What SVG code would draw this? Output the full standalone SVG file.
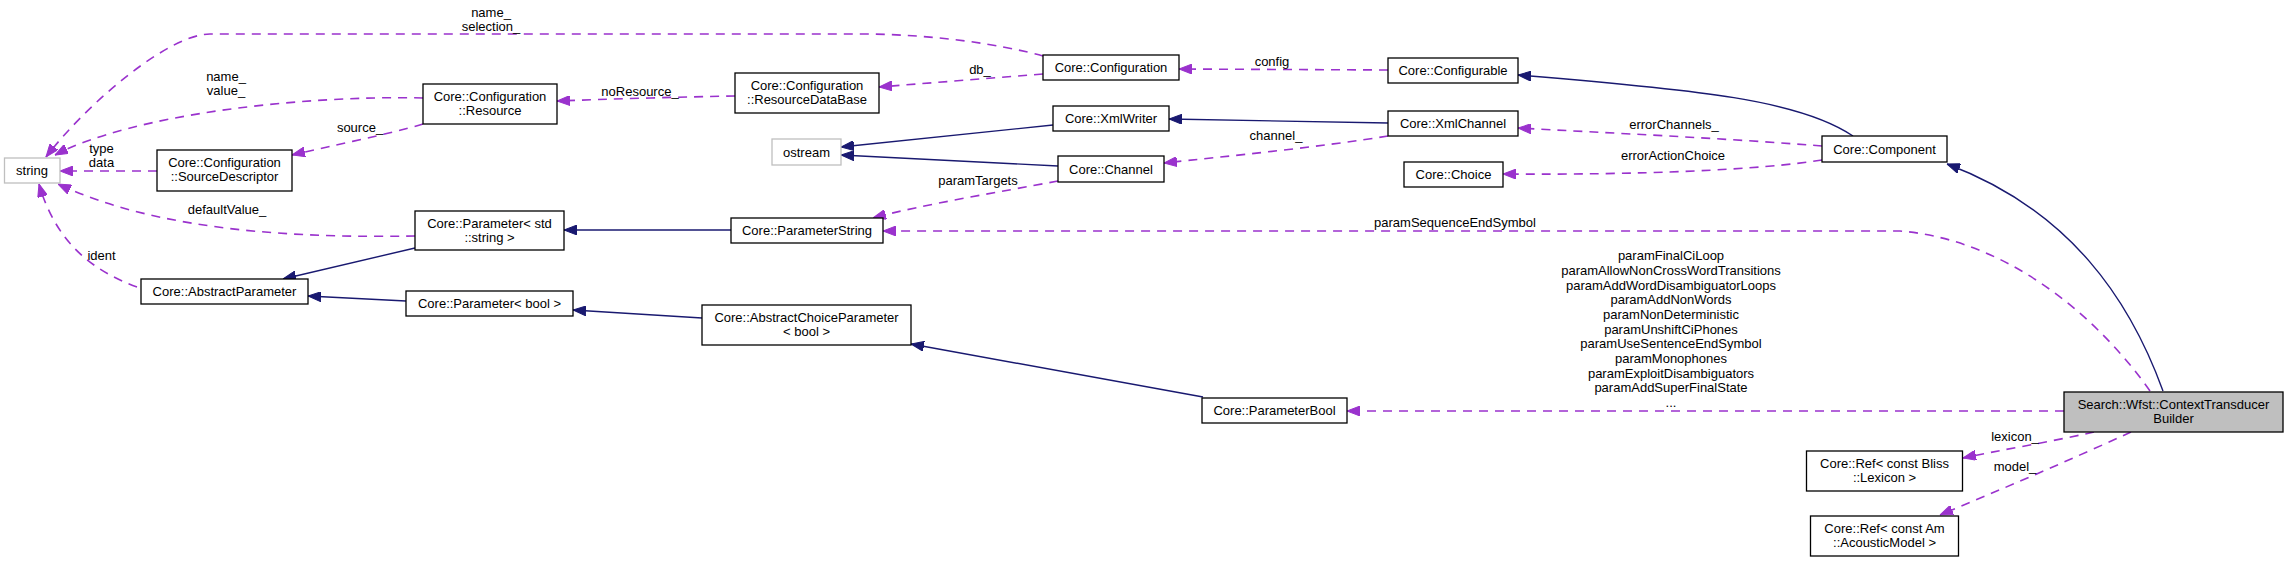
<svg xmlns="http://www.w3.org/2000/svg" width="2288" height="562" viewBox="0 0 2288 562">
<style>
text{font-family:"Liberation Sans",Arial,sans-serif;font-size:13px;fill:#000}
.n text,.lbl{text-anchor:middle}
.box{fill:#fff;stroke:#000;stroke-width:1.3}
.gbox{fill:#fff;stroke:#bfbfbf;stroke-width:1.3}
.cur{fill:#bfbfbf;stroke:#000;stroke-width:1.3}
.inh{fill:none;stroke:#191970;stroke-width:1.4;marker-end:url(#an)}
.use{fill:none;stroke:#9a32cd;stroke-width:1.6;stroke-dasharray:9,7;marker-end:url(#ap)}
</style>
<defs>
<marker id="an" viewBox="0 0 13 10" refX="13" refY="5" markerWidth="13" markerHeight="10" markerUnits="userSpaceOnUse" orient="auto"><path d="M0,0L13,5L0,10z" fill="#191970" stroke="#191970" stroke-width="1"/></marker>
<marker id="ap" viewBox="0 0 13 10" refX="13" refY="5" markerWidth="13" markerHeight="10" markerUnits="userSpaceOnUse" orient="auto"><path d="M0,0L13,5L0,10z" fill="#9a32cd" stroke="#9a32cd" stroke-width="1"/></marker>
</defs>
<rect width="2288" height="562" fill="#fff"/>
<g id="edges">
<path class="use" d="M1043,56 C1000,44 930,34 860,34 L210,34 C170,34 90,100 46,157"/>
<path class="use" d="M423,98 C300,95 130,115 55,155"/>
<path class="use" d="M157,171 L60,171"/>
<path class="use" d="M423,124 C390,134 330,146 292,155"/>
<path class="use" d="M735,96 C680,97 610,99 557,101"/>
<path class="use" d="M1043,74 L879,87"/>
<path class="use" d="M1388,70 L1179,69"/>
<path class="inh" d="M1853,136 C1800,100 1700,90 1518,75"/>
<path class="inh" d="M1388,123 L1169,119"/>
<path class="inh" d="M1053,125 L841,147"/>
<path class="inh" d="M1058,166 L841,155"/>
<path class="use" d="M1388,136 C1320,147 1230,156 1164,163"/>
<path class="use" d="M1058,181 C1000,192 920,205 873,218"/>
<path class="inh" d="M731,230 L564,230"/>
<path class="use" d="M415,236 C300,238 160,232 58,184"/>
<path class="inh" d="M415,248 L283,279"/>
<path class="use" d="M137,287 C90,270 55,240 39,184"/>
<path class="inh" d="M406,301 L308,296"/>
<path class="inh" d="M702,318 L573,310"/>
<path class="inh" d="M1203,397 L911,344"/>
<path class="use" d="M2064,411 L1347,411"/>
<path class="use" d="M2150,391 C2100,320 2010,240 1900,231 L883,231"/>
<path class="inh" d="M2163,391 C2130,300 2070,210 1947,164"/>
<path class="use" d="M1822,146 C1720,138 1610,133 1518,128"/>
<path class="use" d="M1822,160 C1760,170 1640,175 1503,174"/>
<path class="use" d="M2094,432 C2050,442 2000,450 1963,458"/>
<path class="use" d="M2131,432 C2070,460 2000,490 1940,515"/>
<text class="lbl" x="491" y="16.5">name_</text>
<text class="lbl" x="491" y="31">selection_</text>
<text class="lbl" x="226" y="80.5">name_</text>
<text class="lbl" x="226" y="95">value_</text>
<text class="lbl" x="101.5" y="152.5">type</text>
<text class="lbl" x="101.5" y="167">data</text>
<text class="lbl" x="360" y="131.5">source_</text>
<text class="lbl" x="640" y="95.5">noResource_</text>
<text class="lbl" x="980" y="73.5">db_</text>
<text class="lbl" x="1272" y="65.5">config</text>
<text class="lbl" x="1276" y="139.5">channel_</text>
<text class="lbl" x="978" y="185">paramTargets</text>
<text class="lbl" x="227" y="213.5">defaultValue_</text>
<text class="lbl" x="101.5" y="260">ident</text>
<text class="lbl" x="1674" y="128.5">errorChannels_</text>
<text class="lbl" x="1673" y="160">errorActionChoice</text>
<text class="lbl" x="1455" y="227">paramSequenceEndSymbol</text>
<text class="lbl" x="1671" y="260.2">paramFinalCiLoop</text>
<text class="lbl" x="1671" y="274.9">paramAllowNonCrossWordTransitions</text>
<text class="lbl" x="1671" y="289.5">paramAddWordDisambiguatorLoops</text>
<text class="lbl" x="1671" y="304.2">paramAddNonWords</text>
<text class="lbl" x="1671" y="318.9">paramNonDeterministic</text>
<text class="lbl" x="1671" y="333.5">paramUnshiftCiPhones</text>
<text class="lbl" x="1671" y="348.2">paramUseSentenceEndSymbol</text>
<text class="lbl" x="1671" y="362.9">paramMonophones</text>
<text class="lbl" x="1671" y="377.5">paramExploitDisambiguators</text>
<text class="lbl" x="1671" y="392.2">paramAddSuperFinalState</text>
<text class="lbl" x="1671" y="406.9">...</text>
<text class="lbl" x="2015" y="441">lexicon_</text>
<text class="lbl" x="2015" y="471">model_</text>
</g>
<g id="n_string" class="n"><rect class="gbox" x="4.5" y="158" width="55.5" height="25"/><text x="32" y="175">string</text></g>
<g id="n_resource" class="n"><rect class="box" x="423" y="84" width="134" height="40"/><text x="490" y="101">Core::Configuration</text><text x="490" y="115">::Resource</text></g>
<g id="n_sourcedescriptor" class="n"><rect class="box" x="157" y="150" width="135" height="41"/><text x="224.5" y="167">Core::Configuration</text><text x="224.5" y="181">::SourceDescriptor</text></g>
<g id="n_param_string" class="n"><rect class="box" x="415" y="211" width="149" height="39"/><text x="489.5" y="227.5">Core::Parameter&lt; std</text><text x="489.5" y="241.5">::string &gt;</text></g>
<g id="n_abstractparameter" class="n"><rect class="box" x="141" y="279" width="167" height="25"/><text x="224.5" y="296">Core::AbstractParameter</text></g>
<g id="n_param_bool" class="n"><rect class="box" x="406" y="291" width="167" height="25"/><text x="489.5" y="308">Core::Parameter&lt; bool &gt;</text></g>
<g id="n_abstractchoice" class="n"><rect class="box" x="702" y="305" width="209" height="40"/><text x="806.5" y="322">Core::AbstractChoiceParameter</text><text x="806.5" y="336">&lt; bool &gt;</text></g>
<g id="n_configuration" class="n"><rect class="box" x="1043" y="55" width="136" height="25"/><text x="1111" y="72">Core::Configuration</text></g>
<g id="n_resourcedb" class="n"><rect class="box" x="735" y="73" width="144" height="40"/><text x="807" y="90">Core::Configuration</text><text x="807" y="104">::ResourceDataBase</text></g>
<g id="n_xmlwriter" class="n"><rect class="box" x="1053" y="106" width="116" height="25"/><text x="1111" y="123">Core::XmlWriter</text></g>
<g id="n_ostream" class="n"><rect class="gbox" x="772" y="139" width="69" height="26"/><text x="806.5" y="156.5">ostream</text></g>
<g id="n_channel" class="n"><rect class="box" x="1058" y="156" width="106" height="26"/><text x="1111" y="173.5">Core::Channel</text></g>
<g id="n_parameterstring" class="n"><rect class="box" x="731" y="218" width="152" height="25"/><text x="807" y="235">Core::ParameterString</text></g>
<g id="n_configurable" class="n"><rect class="box" x="1388" y="58" width="130" height="25"/><text x="1453" y="75">Core::Configurable</text></g>
<g id="n_xmlchannel" class="n"><rect class="box" x="1388" y="111" width="130" height="25"/><text x="1453" y="128">Core::XmlChannel</text></g>
<g id="n_choice" class="n"><rect class="box" x="1404" y="162" width="99" height="25"/><text x="1453.5" y="179">Core::Choice</text></g>
<g id="n_component" class="n"><rect class="box" x="1822" y="136" width="125" height="26"/><text x="1884.5" y="153.5">Core::Component</text></g>
<g id="n_parameterbool" class="n"><rect class="box" x="1202" y="398" width="145" height="25"/><text x="1274.5" y="415">Core::ParameterBool</text></g>
<g id="n_ctb" class="n"><rect class="cur" x="2064" y="392" width="219" height="40"/><text x="2173.5" y="409">Search::Wfst::ContextTransducer</text><text x="2173.5" y="423">Builder</text></g>
<g id="n_lexicon" class="n"><rect class="box" x="1806.5" y="451" width="156" height="40"/><text x="1884.5" y="468">Core::Ref&lt; const Bliss</text><text x="1884.5" y="482">::Lexicon &gt;</text></g>
<g id="n_acoustic" class="n"><rect class="box" x="1810.5" y="516" width="148" height="40"/><text x="1884.5" y="533">Core::Ref&lt; const Am</text><text x="1884.5" y="547">::AcousticModel &gt;</text></g>
</svg>
